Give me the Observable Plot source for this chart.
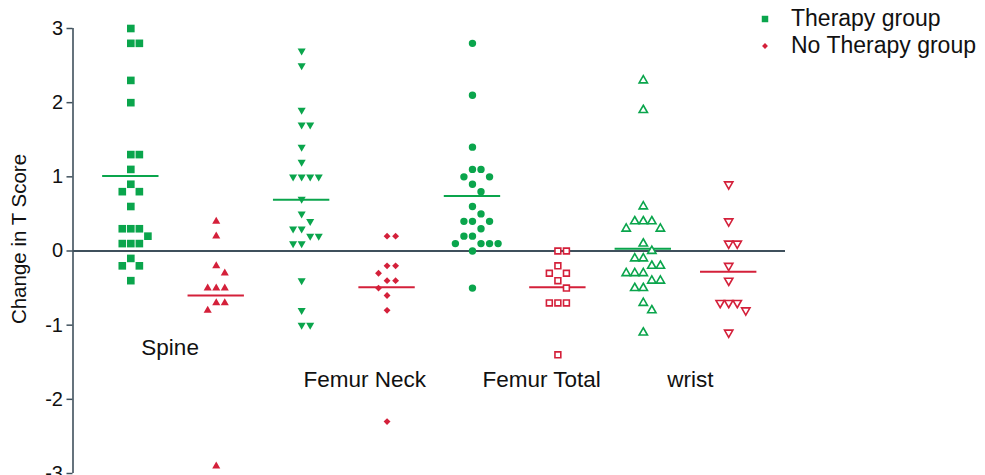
<!DOCTYPE html>
<html>
<head>
<meta charset="utf-8">
<script src="https://cdn.jsdelivr.net/npm/d3@7"></script>
<script src="https://cdn.jsdelivr.net/npm/@observablehq/plot@0.6"></script>
<style>
  html, body { margin: 0; padding: 0; background: #fff; }
  #chart { position: relative; width: 985px; height: 475px; overflow: hidden; }
</style>
</head>
<body>
<div id="chart"></div>
<script>
// ---- data ----
const sites = ["Spine", "Femur Neck", "Femur Total", "wrist"];
const seriesNames = ["Therapy group", "No Therapy group"];
const yTicks = [-3, -2, -1, 0, 1, 2, 3];
const yLabel = "Change in T Score";

const spineTherapy = [3.0, 2.8, 2.8, 2.3, 2.0, 1.3, 1.3, 1.1, 0.9, 0.8, 0.8, 0.6, 0.3, 0.3, 0.3, 0.2, 0.1, 0.1, 0.1, -0.1, -0.2, -0.2, -0.4];
const spineNoTherapy = [0.4, 0.2, -0.2, -0.3, -0.5, -0.5, -0.5, -0.7, -0.7, -0.8, -2.9];
const femurNeckTherapy = [2.7, 2.5, 1.9, 1.7, 1.7, 1.4, 1.2, 1.0, 1.0, 1.0, 1.0, 0.7, 0.5, 0.4, 0.3, 0.3, 0.2, 0.2, 0.1, 0.1, -0.4, -0.8, -1.0, -1.0];
const femurNeckNoTherapy = [0.2, 0.2, -0.2, -0.2, -0.3, -0.4, -0.4, -0.5, -0.6, -0.8, -2.3];
const femurTotalTherapy = [2.8, 2.1, 1.4, 1.1, 1.1, 1.0, 1.0, 0.9, 0.8, 0.6, 0.5, 0.4, 0.4, 0.4, 0.3, 0.2, 0.2, 0.1, 0.1, 0.1, 0.1, 0.0, -0.5];
const femurTotalNoTherapy = [0.0, 0.0, -0.2, -0.3, -0.3, -0.4, -0.5, -0.7, -0.7, -0.7, -1.4];
const wristTherapy = [2.3, 1.9, 0.6, 0.4, 0.4, 0.4, 0.3, 0.3, 0.1, 0.0, -0.1, -0.1, -0.2, -0.2, -0.3, -0.3, -0.3, -0.4, -0.4, -0.5, -0.5, -0.7, -0.8, -1.1];
const wristNoTherapy = [0.9, 0.4, 0.1, 0.1, -0.2, -0.4, -0.7, -0.7, -0.7, -0.8, -1.1];
const therapyMeans = [1.01, 0.69, 0.74, 0.03];
const noTherapyMeans = [-0.60, -0.49, -0.49, -0.28];

// ---- styles / layout ----
const GREEN = "#0aa54c";
const RED = "#d4203a";
const AXIS = "#3f505c";
const FONT = "'Liberation Sans', Arial, Helvetica, sans-serif";

const triangleDown = {
  draw(ctx, size) {
    const y = -Math.sqrt(size / (3 * Math.sqrt(3)));
    ctx.moveTo(0, -2 * y);
    ctx.lineTo(-Math.sqrt(3) * y, y);
    ctx.lineTo(Math.sqrt(3) * y, y);
    ctx.closePath();
  }
};

// per slot: symbol, filled?, radius
const slotStyles = [
  {symbol: "square", filled: true, r: 4.3},
  {symbol: "triangle", filled: true, r: 3.0},
  {symbol: triangleDown, filled: true, r: 3.0},
  {symbol: "diamond2", filled: true, r: 3.1},
  {symbol: "circle", filled: true, r: 3.7},
  {symbol: "square", filled: false, r: 3.3},
  {symbol: "triangle", filled: false, r: 3.1},
  {symbol: triangleDown, filled: false, r: 3.1}
];

const valueSets = [
  [spineTherapy, spineNoTherapy],
  [femurNeckTherapy, femurNeckNoTherapy],
  [femurTotalTherapy, femurTotalNoTherapy],
  [wristTherapy, wristNoTherapy]
];
const meanSets = [therapyMeans, noTherapyMeans];

// Prism-like scatter: spread points whose values collide into side columns
const COL = 0.1;            // column step, in slot units
const order = [0, 1, -1, 2, -2, 3, -3, 4, -4];
function scatter(values) {
  const placed = [];
  const sorted = values.map((v, i) => ({v, i})).sort((a, b) => b.v - a.v);
  const out = new Array(values.length);
  for (const {v, i} of sorted) {
    let col = 0;
    for (const c of order) {
      if (!placed.some(p => p.c === c && Math.abs(p.v - v) < 0.15)) { col = c; break; }
    }
    placed.push({c: col, v});
    out[i] = col * COL;
  }
  return out;
}

const points = [];
const means = [];
sites.forEach((site, gi) => {
  [0, 1].forEach(s => {
    const slot = gi * 2 + s;
    const vals = valueSets[gi][s];
    const offs = scatter(vals);
    vals.forEach((v, k) => points.push({site, series: seriesNames[s], slot, x: slot + offs[k], value: v}));
    means.push({site, series: seriesNames[s], slot, mean: meanSets[s][gi]});
  });
});

const colorOf = s => s === seriesNames[0] ? GREEN : RED;

// category label placement (layout, in slot / value units)
const siteLabelPos = [
  {x: 0.46, y: -1.30},
  {x: 2.74, y: -1.73},
  {x: 4.81, y: -1.73},
  {x: 6.55, y: -1.73}
];
const siteLabels = sites.map((s, i) => ({label: s, ...siteLabelPos[i]}));

const xDomain = [-0.677, 7.665];

const dotMarks = slotStyles.map((st, slot) => {
  const data = points.filter(d => d.slot === slot);
  const c = colorOf(data[0].series);
  return Plot.dot(data, {
    x: "x", y: "value", symbol: () => st.symbol, r: st.r,
    fill: st.filled ? c : "white",
    stroke: st.filled ? "none" : c,
    strokeWidth: st.filled ? 0 : 1.6
  });
});

const chart = Plot.plot({
  width: 985,
  height: 475,
  marginLeft: 72.5,
  marginRight: 200,
  marginTop: 28,
  marginBottom: 2,
  style: {fontFamily: FONT, fontSize: "20px", color: "#111", background: "white", overflow: "visible"},
  symbol: {type: "identity"},
  x: {type: "linear", domain: xDomain, axis: null},
  y: {domain: [-3, 3], ticks: yTicks, tickFormat: d => String(d), tickSize: 6, tickPadding: 4, label: null},
  marks: [
    Plot.ruleY([0], {stroke: AXIS, strokeWidth: 2}),
    Plot.ruleX([xDomain[0]], {stroke: AXIS, strokeWidth: 1.6}),
    Plot.ruleY(means, {
      y: "mean",
      x1: d => d.slot - 0.33,
      x2: d => d.slot + 0.33,
      stroke: d => colorOf(d.series),
      strokeWidth: 2
    }),
    ...dotMarks,
    Plot.text(siteLabels, {x: "x", y: "y", text: "label", fontSize: 22.5, fill: "#111", textAnchor: "middle"})
  ]
});

document.getElementById("chart").appendChild(chart);

// color the y-axis tick marks like the reference
const svg = d3.select(chart.tagName.toLowerCase() === "svg" ? chart : chart.querySelector("svg"));
svg.selectAll('[aria-label^="y-axis"] line, [aria-label^="y-axis"] path').attr("stroke", AXIS).attr("stroke-width", 1.5);

// y axis title
svg.append("text")
  .attr("transform", "translate(25.5,239) rotate(-90)")
  .attr("text-anchor", "middle")
  .attr("font-family", FONT)
  .attr("font-size", 20.5)
  .attr("fill", "#111")
  .text(yLabel);

// legend
const legend = svg.append("g").attr("font-family", FONT).attr("font-size", 23).attr("fill", "#111").attr("text-anchor", "start");
const legendItems = [
  {name: seriesNames[0], color: GREEN, symbol: d3.symbolSquare, size: 42, y: 19},
  {name: seriesNames[1], color: RED, symbol: d3.symbolDiamond2, size: 22, y: 46}
];
legendItems.forEach(it => {
  legend.append("path")
    .attr("d", d3.symbol(it.symbol, it.size)())
    .attr("transform", `translate(765,${it.y})`)
    .attr("fill", it.color);
  legend.append("text")
    .attr("x", 791)
    .attr("y", it.y + 6.5)
    .attr("text-anchor", "start")
    .text(it.name);
});
</script>
</body>
</html>
